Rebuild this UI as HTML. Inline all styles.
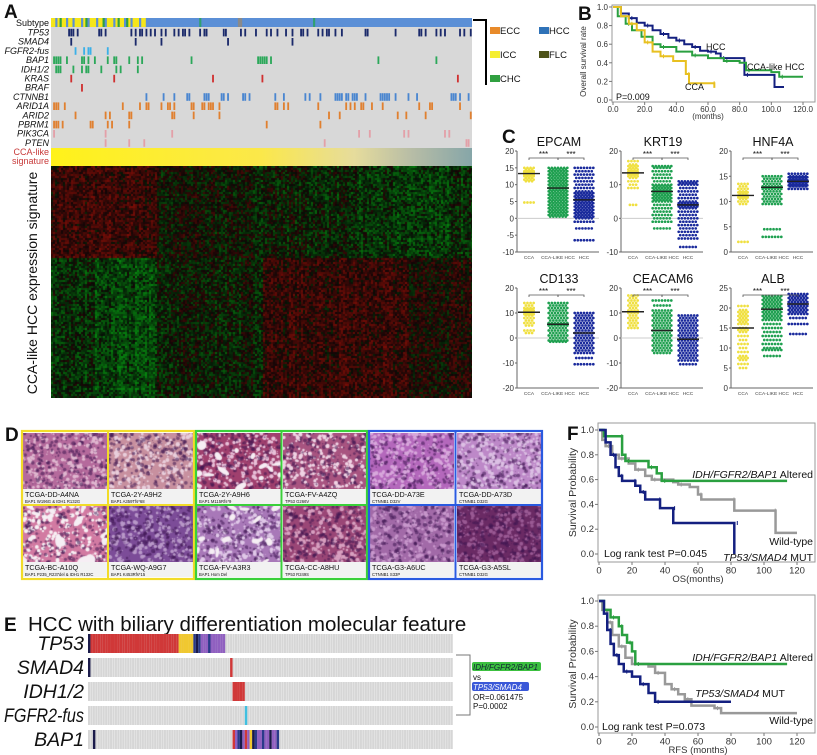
<!DOCTYPE html>
<html><head><meta charset="utf-8">
<style>
body{margin:0;width:817px;height:755px;overflow:hidden;background:#fff;font-family:"Liberation Sans",Arial,sans-serif;position:relative}
canvas{position:absolute}
svg{position:absolute;left:0;top:0}
</style></head>
<body>
<canvas id="heat" width="421" height="232" style="left:51px;top:166px"></canvas>
<div id="histo"></div>
<svg id="fig" width="817" height="755" xmlns="http://www.w3.org/2000/svg"></svg>
<script>
// ---------------- DATA ----------------
const oncoGenes=["TP53","SMAD4","FGFR2-fus","BAP1","IDH1/2","KRAS","BRAF","CTNNB1","ARID1A","ARID2","PBRM1","PIK3CA","PTEN"];
const oncoColors=["#1b2a6b","#1b2a6b","#3bb0e8","#2ca85a","#2ca85a","#d03030","#d03030","#4a86d0","#e08030","#e08030","#e08030","#e3a0a8","#e3a0a8"];
const tp53Samples=[8,9,10,12,22,23,25,37,39,41,42,44,46,48,51,53,57,59,61,62,64,69,71,72,80,81,88,90,95,100,102,105,109,112,116,117,119,124,126,128,129,132,135,146,147,160,171,172,174,179,181,183,190,192,195];
const smad4Samples=[9,39,51,82,112];
const fgfr2Samples=[11,15,17,18,26];
const bap1Samples=[1,2,3,4,7,14,15,17,20,26,29,30,36,40,42,65,96,97,98,99,100,102,152,179];
const idhSamples=[2,3,4,10,14,16,17,23,30,32,40];
const krasSamples=[9,29,75,98,189];
const brafSamples=[14];
const ctnnb1Samples=[44,52,57,63,64,71,72,73,79,80,82,89,90,92,104,108,118,120,125,132,133,134,135,137,138,140,141,142,146,153,154,155,156,157,160,166,170,186,187,188,190,194];
const arid1aSamples=[1,2,3,6,33,41,44,45,51,54,55,57,65,66,70,71,73,74,75,78,104,105,108,110,124,137,139,141,144,145,149,154,171,176,177,190];
const arid2Samples=[11,25,27,36,37,56,57,66,78,129,134,161,165,174,195];
const pbrm1Samples=[1,2,3,5,18,19,26,28,36,100,125];
const pik3caSamples=[1,25,56,143,148,164,166,183,185];
const ptenSamples=[25,36,43,127,193,194];
const subtypeHead="YYBYGYYBYYBYYYBYGBYYYBYYGBYYYBYGYYBGYBYYYBYY";

// Panel B KM (months, survival)
const bHccT=[0,5,10,15,20,25,30,35,40,45,50,55,60,65,68,75,83,102,108];
const bHccS=[1,0.93,0.88,0.83,0.8,0.75,0.71,0.67,0.64,0.6,0.57,0.53,0.52,0.5,0.45,0.45,0.27,0.14,0.14];
const bLikeT=[0,3,8,12,18,25,30,40,50,60,70,80,84,100,105,120];
const bLikeS=[1,0.9,0.82,0.75,0.68,0.6,0.57,0.52,0.48,0.45,0.42,0.4,0.32,0.3,0.25,0.25];
const bCcaT=[0,5,10,15,20,25,30,38,46,48,62,64];
const bCcaS=[1,0.9,0.82,0.75,0.62,0.52,0.47,0.42,0.28,0.18,0.18,0.13];
// Panel F KM
const osGreenT=[0,3,12,14,16,27,30,35,38,114];
const osGreenS=[1,0.95,0.95,0.8,0.75,0.75,0.7,0.65,0.59,0.59];
const osGrayT=[0,2,4,8,12,18,22,28,32,45,48,55,60,62,80,82,105,107,120];
const osGrayS=[1,0.92,0.87,0.8,0.77,0.73,0.68,0.63,0.6,0.58,0.56,0.54,0.48,0.44,0.44,0.35,0.35,0.17,0.17];
const osNavyT=[0,4,7,10,12,14,20,22,25,28,35,37,44,45,82,82];
const osNavyS=[1,0.9,0.8,0.7,0.63,0.59,0.59,0.55,0.5,0.44,0.44,0.37,0.37,0.25,0.25,0];
const rfsGreenT=[0,3,7,10,12,14,17,20,22,114];
const rfsGreenS=[1,0.93,0.87,0.87,0.8,0.73,0.67,0.6,0.5,0.5];
const rfsGrayT=[0,2,5,8,12,16,20,30,34,40,44,48,52,56,70,74,120];
const rfsGrayS=[1,0.93,0.83,0.73,0.64,0.55,0.5,0.48,0.43,0.34,0.3,0.26,0.22,0.17,0.15,0.11,0.11];
const rfsNavyT=[0,3,5,7,9,12,15,20,25,30,34,80];
const rfsNavyS=[1,0.9,0.77,0.66,0.57,0.5,0.44,0.4,0.34,0.27,0.2,0.2];

// Panel C dot plots
const epcamCCA=[15,14.5,14,14,13.8,13.5,13.5,13.3,13.2,13,13,12.8,12.5,12,11.5,11,4.7];
const epcamLike=[15,14.5,14,13.5,13,12.5,12,11.5,11,10.5,10,9.5,9,8.5,8,7.5,7,6.5,6,5.5,5,4.5,4,3.5,3,2.5,2,1.5,1,0.5];
const epcamHCC=[15,14,13,12,11,10,9,8,7.5,7,6.5,6,5.5,5,4.5,4,3.5,3,2.5,2,1.5,1,0.5,0,-1,-3,-6.5];
const epcamMeans=[13.3,9,5.5];
const krt19CCA=[17,16,15.5,15,14.5,14,13.8,13.5,13.2,13,12.5,12,11,10,9,4];
const krt19Like=[15.5,15,14,13,12,11,10,9.5,9,8.5,8,7.5,7,6.5,6,5.5,5,4,3,2,1,0,-1,-3];
const krt19HCC=[11,10.5,10,9,8,7,6,5,4.5,4,3.5,3,2,1,0,-1,-2,-3,-4,-5,-6,-8.5];
const krt19Means=[13.5,8,4];
const hnf4aCCA=[13.5,13,12.5,12,11.8,11.5,11.2,11,10.8,10.5,10,9.5,2];
const hnf4aLike=[15,14.5,14,13.5,13,12.8,12.5,12,11.5,11,10.5,10,9.5,4.5,3];
const hnf4aHCC=[15.5,15,14.8,14.5,14.2,14,13.8,13.5,13.2,13,12.5];
const hnf4aMeans=[11.2,12.8,14];
const cd133CCA=[14,13,12,11.5,11,10.5,10.3,10,9.5,9,8,7,6,5,3,2];
const cd133Like=[14,13,12,11,10,9,8,7,6,5.5,5,4,3,2,1,0,-1,-1.5];
const cd133HCC=[10,9,8,7,6,5,4,3,2,1,0,-1,-2,-3,-4,-5,-6,-8,-10.5];
const cd133Means=[10.3,5.5,2];
const ceacamCCA=[17,16,15,14,13,12,11,10.5,10,9,8,7,6,5,4];
const ceacamLike=[15,13,11,10,9,8,7,6,5,4,3,2,1,0,-1,-2,-3,-4,-5,-6];
const ceacamHCC=[9,8,7,6,5,4,3,2,1,0,-1,-2,-3,-4,-5,-6,-7,-8,-9,-10.5];
const ceacamMeans=[10.5,3,-0.5];
const albCCA=[20.5,19.5,19,18.5,18,17.5,17,16.5,16,15,14.5,14,13,12,11,10,9,8,7.5,7,6,5];
const albLike=[23,22.5,22,21.5,21,20.5,20,19.5,19,18.5,18,17.5,17,16,15,14,13,12,11,10,9.5,8];
const albHCC=[23.5,23,22.5,22,21.5,21,20.5,20,19.5,19,18.5,17.5,16,13.5];
const albMeans=[15,19.7,21];

// Panel E oncoprint strings (one char per sample)
const eTP53="N"+"R".repeat(36)+"YYYYYY"+"BNBPPPBPPPPPP";
const eSMAD4Idx=[0,58];
const eSMAD4Col=["N","R"];
const eIDHIdx=[59,60,61,62,63];
const eFGFRIdx=[64];
const eBAP1Str="RPBNPRPYNBPPBPPNPPB";
const eBAP1Start=59;

// ---------------- DRAW ----------------
const NS="http://www.w3.org/2000/svg";
const svg=document.getElementById('fig');
function mk(tag,attrs,parent){const e=document.createElementNS(NS,tag);for(const k in attrs)e.setAttribute(k,attrs[k]);(parent||svg).appendChild(e);return e;}
function txt(x,y,s,size,opts,parent){opts=opts||{};const t=mk('text',{x:x,y:y,'font-size':size,fill:opts.fill||'#111','text-anchor':opts.anchor||'start','font-family':'"Liberation Sans",Arial,sans-serif'},parent);
 if(opts.italic)t.setAttribute('font-style','italic');if(opts.bold)t.setAttribute('font-weight','bold');if(opts.rot)t.setAttribute('transform','rotate(-90 '+x+' '+y+')');t.textContent=s;return t;}

// Panel letters
[["A",4,18],["B",578,20],["C",502,143],["D",5,441],["E",4,631],["F",567,440]].forEach(p=>{const t=txt(p[1],p[2],p[0],19,{bold:true});});

// ---- Panel A oncoprint
const N=196,ox=51,ow=421,sw=ow/N;
const gA=mk('g',{});
const bgA=mk('rect',{x:ox,y:27,width:ow,height:121,fill:'#d8d8d8'},gA);

const subRow=mk('rect',{x:ox,y:18,width:ow,height:9,fill:'#5b8fd6'},gA);

const subCol={Y:'#f5e61a',B:'#5b8fd6',G:'#30a040'};
for(let i=0;i<subtypeHead.length;i++){const r=mk('rect',{x:ox+i*sw,y:18,width:sw+0.3,height:9,fill:subCol[subtypeHead[i]]},gA);}
[[87,'#8a8a8a'],[88,'#8a8a8a'],[69,'#30a070'],[122,'#30a070']].forEach(s=>{const r=mk('rect',{x:ox+s[0]*sw,y:18,width:sw,height:9,fill:s[1]},gA);});
const lab=txt(49,26,"Subtype",9,{anchor:'end'},gA);
const geneSamples=[tp53Samples,smad4Samples,fgfr2Samples,bap1Samples,idhSamples,krasSamples,brafSamples,ctnnb1Samples,arid1aSamples,arid2Samples,pbrm1Samples,pik3caSamples,ptenSamples];
oncoGenes.forEach((g,i)=>{const y=28+i*9.2;
 const l=txt(49,y+7.5,g,9,{anchor:'end',italic:true},gA);
 geneSamples[i].forEach(s=>{const r=mk('rect',{x:ox+s*sw,y:y+0.8,width:sw*0.85,height:7.6,fill:oncoColors[i]},gA);});
});
const defs=mk('defs',{});
const lg=mk('linearGradient',{id:'sig',x1:0,x2:1,y1:0,y2:0},defs);
[[0,'#fff21a'],[0.5,'#fbe84a'],[0.72,'#e6dc9c'],[0.86,'#b6bca6'],[1,'#86a6a8']].forEach(s=>mk('stop',{offset:s[0],'stop-color':s[1]},lg));
const sig=mk('rect',{x:ox,y:148,width:ow,height:18,fill:'url(#sig)'},gA);
const s1=txt(49,155,"CCA-like",9,{anchor:'end',fill:'#c83a3a'},gA);
const s2=txt(49,164,"signature",9,{anchor:'end',fill:'#c83a3a'},gA);
const hl=txt(37,283,"CCA-like HCC expression signature",14,{anchor:'middle',rot:true},gA);
// legend
const lgA=mk('g',{});
mk('path',{d:'M473 20 H486 V85',stroke:'#000','stroke-width':2,fill:'none'},lgA);
[["ECC",'#e88a2a',490,27],["HCC",'#2f72b8',539,27],["ICC",'#f5ee30',490,51],["FLC",'#4d5218',539,51],["CHC",'#30a040',490,75]].forEach(e=>{
 const r=mk('rect',{x:e[2],y:e[3],width:10,height:7,fill:e[1]},lgA);
 const t=txt(e[2]+10,e[3]+7,e[0],9.5,{},lgA);});

// heatmap texture
(function(){const c=document.getElementById('heat').getContext('2d');let seed=7;const rnd=()=>{seed=(seed*16807)%2147483647;return seed/2147483647;};
 const W=421,H=232;const colv=[];for(let x=0;x<W;x+=2)colv.push((rnd()-0.5)*0.5);
 for(let y=0;y<H;y+=2){const rv=(rnd()-0.5)*0.3;for(let x=0;x<W;x+=2){let base;const f=x/W;
  if(y<92){base=f<0.25?0.35:(f<0.45?0.0:-0.2-0.12*Math.sin(f*9));}else{base=f<0.1?-0.25:(f<0.25?-0.4:(f<0.5?-0.1:0.3));if(f>0.85)base=0.12;}
  let v=base+colv[x/2]*0.6+rv*0.4+(rnd()-0.5)*0.8;const m=Math.min(1,Math.abs(v));
  c.fillStyle=v>0?`rgb(${Math.round(15+m*120)},${Math.round(6+m*8)},6)`:`rgb(6,${Math.round(15+m*130)},${Math.round(6+m*10)})`;c.fillRect(x,y,2,2);}}})();

// ---- Panel D histology
const histo=[["TCGA-DD-A4NA","BAP1 W196G & IDH1 R132G",'#b56a9c','#e0b8d0'],["TCGA-2Y-A9H2","BAP1 A359Tfs*68",'#c8909f','#e9cfdc'],["TCGA-2Y-A9H6","BAP1 M115Rfs*9",'#a0406e','#e8c0d8'],["TCGA-FV-A4ZQ","TP53 G266V",'#a85480','#f0d4e4'],["TCGA-DD-A73E","CTNNB1 D32V",'#b468bc','#d8a8dc'],["TCGA-DD-A73D","CTNNB1 D32G",'#bd88c8','#dcc0e4'],
["TCGA-BC-A10Q","BAP1 P235_R237del & IDH1 R132C",'#d27aa2','#f8f0f4'],["TCGA-WQ-A9G7","BAP1 K453Rfs*15",'#7c4c98','#b898c8'],["TCGA-FV-A3R3","BAP1 Hom Del",'#a878b8','#e0c8e8'],["TCGA-CC-A8HU","TP53 R249S",'#9a4676','#d8a0c0'],["TCGA-G3-A6UC","CTNNB1 S33P",'#a26aa8','#c898cc'],["TCGA-G3-A5SL","CTNNB1 D32G",'#6a2a64','#9a5a94']];
const cellX=[23,109,197,283,370,457],cellY=[433,506];
const hdiv=document.getElementById('histo');
histo.forEach((h,i)=>{const col=i%6,row=Math.floor(i/6);const cv=document.createElement('canvas');cv.width=84;cv.height=56;cv.style.left=cellX[col]+'px';cv.style.top=cellY[row]+'px';
 
 
 hdiv.appendChild(cv);const c=cv.getContext('2d');c.fillStyle=h[2];c.fillRect(0,0,84,56);let seed=31+i*97;const rnd=()=>{seed=(seed*16807)%2147483647;return seed/2147483647;};
 for(let k=0;k<500;k++){c.fillStyle=rnd()<0.5?h[3]:'rgba(60,20,80,0.55)';const r=rnd()*1.8+0.4;c.beginPath();c.arc(rnd()*84,rnd()*56,r,0,7);c.fill();}
 if(i==6||i==2||i==8){for(let k=0;k<14;k++){c.fillStyle='#f6eef4';c.beginPath();c.ellipse(rnd()*84,rnd()*56,2+rnd()*5,1.5+rnd()*3,rnd()*3,0,7);c.fill();}}
 const lb=mk('rect',{x:cellX[col],y:cellY[row]+56,width:84,height:15,fill:'#f2f2f2'});
 const t1=txt(cellX[col]+2,cellY[row]+64,h[0],7.2,{});
 const t2=txt(cellX[col]+2,cellY[row]+70,h[1],4.2,{});
});
[["#f2dc28",21,195],["#3ad03a",195,368],["#2a5ae0",368,543]].forEach((b,i)=>{const r=mk('rect',{x:b[1]+1,y:431,width:b[2]-b[1]-2,height:148,fill:'none',stroke:b[0],'stroke-width':2.2});
 const m=mk('line',{x1:b[1]+1,x2:b[2]-1,y1:505,y2:505,stroke:b[0],'stroke-width':2});
 const v=mk('line',{x1:(b[1]+b[2])/2,x2:(b[1]+b[2])/2,y1:431,y2:579,stroke:b[0],'stroke-width':2});});

// ---- Panel E
const et=txt(28,631,"HCC with biliary differentiation molecular feature",20.5,{});
const pat=mk('pattern',{id:'stripe',width:2.45,height:10,patternUnits:'userSpaceOnUse',x:88},defs);
mk('rect',{x:0,y:0,width:2.45,height:10,fill:'#d6d6d6'},pat);mk('rect',{x:2.05,y:0,width:0.4,height:10,fill:'#f4f4f4'},pat);
const eCol={R:'#d03838',Y:'#f0c830',B:'#2a3a8a',N:'#1a1a4a',P:'#9060c0',C:'#40c0e0'};
const eGenes=["TP53","SMAD4","IDH1/2","FGFR2-fus","BAP1"];
const ex0=88,esw=2.45;
eGenes.forEach((g,i)=>{const y=634+i*24;const r=mk('rect',{x:ex0,y:y,width:365,height:19,fill:'url(#stripe)'});
 const t=txt(84,y+16,g,19.5,{anchor:'end',italic:true});
 if(g==="FGFR2-fus"){t.setAttribute('textLength','80');t.setAttribute('lengthAdjust','spacingAndGlyphs');}});
function eMark(idx,row,code){const r=mk('rect',{x:ex0+idx*esw,y:634+row*24,width:esw,height:19,fill:eCol[code]});}
for(let i=0;i<eTP53.length;i++)eMark(i,0,eTP53[i]);
eSMAD4Idx.forEach((s,k)=>eMark(s,1,eSMAD4Col[k]));
eIDHIdx.forEach(s=>eMark(s,2,'R'));
eFGFRIdx.forEach(s=>eMark(s,3,'C'));
eMark(2,4,'N');
for(let i=0;i<eBAP1Str.length;i++)eMark(eBAP1Start+i,4,eBAP1Str[i]);
const br=mk('path',{d:'M456 655 H470 V715 H456',stroke:'#777','stroke-width':1,fill:'none'});
const gb=mk('rect',{x:472,y:662,width:69,height:9,fill:'#3cc040',rx:2});
const t1=txt(473,670,"IDH/FGFR2/BAP1",8,{italic:true,fill:'#123'});
const t2=txt(473,680,"vs",8,{});
const bb=mk('rect',{x:472,y:682,width:57,height:9,fill:'#3a58d8',rx:2});
const t3=txt(473,690,"TP53/SMAD4",8,{italic:true,fill:'#fff'});
const t4=txt(473,700,"OR=0.061475",8,{});
const t5=txt(473,709,"P=0.0002",8,{});

// ---- KM helper
function kmPlot(cfg){const g=mk('g',{});
 const X=t=>cfg.x0+t*(cfg.x120-cfg.x0)/120, Y=s=>cfg.y0-s*(cfg.y0-cfg.y1);
 const box=mk('rect',{x:cfg.bx,y:cfg.by,width:cfg.bw,height:cfg.bh,fill:'none',stroke:'#999','stroke-width':1},g);
 cfg.yt.forEach(v=>{const tk=mk('line',{x1:cfg.bx-3,x2:cfg.bx,y1:Y(v),y2:Y(v),stroke:'#777'},g);
  const l=txt(cfg.bx-4,Y(v)+3,v.toFixed(1),cfg.fs,{anchor:'end',fill:'#333'},g);});
 cfg.xt.forEach(v=>{const tk=mk('line',{x1:X(v),x2:X(v),y1:cfg.by+cfg.bh,y2:cfg.by+cfg.bh+3,stroke:'#777'},g);
  const l=txt(X(v),cfg.by+cfg.bh+cfg.fs+2,cfg.xfmt(v),cfg.fs,{anchor:'middle',fill:'#333'},g);});
 cfg.series.forEach(s=>{let d='M'+X(s.t[0])+' '+Y(s.s[0]);for(let i=1;i<s.t.length;i++)d+=' H'+X(s.t[i])+' V'+Y(s.s[i]);
  const p=mk('path',{d:d,stroke:s.c,'stroke-width':s.w||2,fill:'none'},g);
  for(let i=2;i<s.t.length-1;i+=2){const ct=mk('line',{x1:X(s.t[i])+3,x2:X(s.t[i])+3,y1:Y(s.s[i])-2,y2:Y(s.s[i])+2,stroke:s.c,'stroke-width':1},g);}});
 const xl=txt((cfg.x0+cfg.x120)/2,cfg.by+cfg.bh+cfg.fs*2+1,cfg.xlab,cfg.fs,{anchor:'middle',fill:'#333'},g);
 const yl=txt(cfg.ylx,(cfg.by+cfg.by+cfg.bh)/2+cfg.yloff,cfg.ylab,cfg.yfs,{anchor:'middle',rot:true,fill:'#333'},g);
 cfg.labels.forEach(l=>{const t=txt(l[0],l[1],l[2],cfg.fs+1,{italic:!!l[3],anchor:l[4]||'start'},g);});
}
kmPlot({name:'survival-plot-b',x0:613,x120:803,y0:100,y1:7,bx:612,by:5,bw:203,bh:97,fs:8,yfs:8,yloff:8,yt:[0,0.2,0.4,0.6,0.8,1.0],xt:[0,20,40,60,80,100,120],xfmt:v=>v.toFixed(1),xlab:"(months)",ylab:"Overall survival rate",ylx:586,
 series:[{t:bHccT,s:bHccS,c:'#142080',n:'hcc-curve'},{t:bLikeT,s:bLikeS,c:'#2aa040',n:'cca-like-hcc-curve'},{t:bCcaT,s:bCcaS,c:'#e8c020',n:'cca-curve'}],
 labels:[[706,50,"HCC"],[747,70,"CCA-like HCC"],[685,90,"CCA"],[616,100,"P=0.009"]]});
kmPlot({name:'os-survival-plot-f',x0:599,x120:797,y0:554,y1:430,bx:598,by:423,bw:217,bh:139,fs:9.5,yfs:10.5,yloff:0,yt:[0,0.2,0.4,0.6,0.8,1.0],xt:[0,20,40,60,80,100,120],xfmt:v=>String(v),xlab:"OS(months)",ylab:"Survival Probability",ylx:576,
 series:[{t:osGrayT,s:osGrayS,c:'#999',n:'wild-type-curve',w:2.5},{t:osGreenT,s:osGreenS,c:'#2aa040',n:'idh-altered-curve',w:2.5},{t:osNavyT,s:osNavyS,c:'#142080',n:'tp53-mut-curve',w:2.5}],
 labels:[[813,478,"IDH/FGFR2/BAP1",true,'end'],[813,545,"Wild-type",false,'end'],[604,557,"Log rank test P=0.045"],[813,561,"TP53/SMAD4 MUT",true,'end']]});
kmPlot({name:'rfs-survival-plot-f',x0:599,x120:797,y0:727,y1:601,bx:598,by:595,bw:217,bh:138,fs:9.5,yfs:10.5,yloff:0,yt:[0,0.2,0.4,0.6,0.8,1.0],xt:[0,20,40,60,80,100,120],xfmt:v=>String(v),xlab:"RFS (months)",ylab:"Survival Probability",ylx:576,
 series:[{t:rfsGrayT,s:rfsGrayS,c:'#999',n:'wild-type-curve',w:2.5},{t:rfsGreenT,s:rfsGreenS,c:'#2aa040',n:'idh-altered-curve',w:2.5},{t:rfsNavyT,s:rfsNavyS,c:'#142080',n:'tp53-mut-curve',w:2.5}],
 labels:[[813,661,"IDH/FGFR2/BAP1",true,'end'],[740,697,"TP53/SMAD4 MUT",true,'middle'],[813,724,"Wild-type",false,'end'],[602,730,"Log rank test P=0.073"]]});
document.querySelectorAll('text').forEach(t=>{if(t.textContent==="IDH/FGFR2/BAP1"&&t.getAttribute('text-anchor')==='end'){t.textContent='';const a=document.createElementNS(NS,'tspan');a.setAttribute('font-style','italic');a.textContent='IDH/FGFR2/BAP1';t.appendChild(a);const b=document.createElementNS(NS,'tspan');b.setAttribute('font-style','normal');b.textContent=' Altered';t.appendChild(b);}
 if(t.textContent==="TP53/SMAD4 MUT"){t.textContent='';const a=document.createElementNS(NS,'tspan');a.setAttribute('font-style','italic');a.textContent='TP53/SMAD4';t.appendChild(a);const b=document.createElementNS(NS,'tspan');b.setAttribute('font-style','normal');b.textContent=' MUT';t.appendChild(b);}});

// ---- Panel C dot plots
const grpColors=['#f0e040','#1fa050','#1a2a9c'];
function dotPlot(cfg){const g=mk('g',{});
 const Y=v=>cfg.yb-(v-cfg.min)*(cfg.yb-cfg.yt)/(cfg.max-cfg.min);
 const tt=txt(cfg.ax+42,cfg.yt-5,cfg.title,12.5,{anchor:'middle'},g);
 const axl=mk('path',{d:`M${cfg.ax} ${cfg.yt} V${cfg.yb} H${cfg.ax+82}`,stroke:'#666',fill:'none','stroke-width':1},g);
 if(cfg.min<0){const z=mk('line',{x1:cfg.ax,x2:cfg.ax+82,y1:Y(0),y2:Y(0),stroke:'#ccc'},g);}
 cfg.ticks.forEach(v=>{const tk=mk('line',{x1:cfg.ax-2,x2:cfg.ax,y1:Y(v),y2:Y(v),stroke:'#666'},g);
  const l=txt(cfg.ax-3,Y(v)+3,String(v),8,{anchor:'end',fill:'#333'},g);});
 const cx=[cfg.ax+12,cfg.ax+41,cfg.ax+67],widths=[4,7,7];
 ["CCA","CCA-LIKE HCC","HCC"].forEach((n,i)=>{const l=txt(cx[i],cfg.yb+7,n,4.8,{anchor:'middle',fill:'#444'},g);});
 cfg.groups.forEach((vals,gi)=>{vals.forEach((v,k)=>{const n=widths[gi]-(k%2);for(let j=0;j<n;j++){const c=mk('circle',{cx:cx[gi]+(j-(n-1)/2)*3.1,cy:Y(v),r:1.35,fill:grpColors[gi]},g);}});
  const m=mk('line',{x1:cx[gi]-11,x2:cx[gi]+11,y1:Y(cfg.means[gi]),y2:Y(cfg.means[gi]),stroke:'#222','stroke-width':1.4},g);});
 const by=cfg.yt+7;
 [[0,1],[1,2]].forEach(p=>{const b=mk('path',{d:`M${cx[p[0]]} ${by+2} V${by} H${cx[p[1]]} V${by+2}`,stroke:'#555',fill:'none','stroke-width':0.8},g);
  const s=txt((cx[p[0]]+cx[p[1]])/2,by-1,"***",8,{anchor:'middle'},g);});
}
dotPlot({title:'EPCAM',ax:517,yt:151,yb:252,min:-10,max:20,ticks:[-10,-5,0,5,10,15,20],groups:[epcamCCA,epcamLike,epcamHCC],means:epcamMeans});
dotPlot({title:'KRT19',ax:621,yt:151,yb:252,min:-10,max:20,ticks:[-10,0,10,20],groups:[krt19CCA,krt19Like,krt19HCC],means:krt19Means});
dotPlot({title:'HNF4A',ax:731,yt:151,yb:252,min:0,max:20,ticks:[0,5,10,15,20],groups:[hnf4aCCA,hnf4aLike,hnf4aHCC],means:hnf4aMeans});
dotPlot({title:'CD133',ax:517,yt:288,yb:388,min:-20,max:20,ticks:[-20,-10,0,10,20],groups:[cd133CCA,cd133Like,cd133HCC],means:cd133Means});
dotPlot({title:'CEACAM6',ax:621,yt:288,yb:388,min:-20,max:20,ticks:[-20,-10,0,10,20],groups:[ceacamCCA,ceacamLike,ceacamHCC],means:ceacamMeans});
dotPlot({title:'ALB',ax:731,yt:288,yb:388,min:0,max:25,ticks:[0,5,10,15,20,25],groups:[albCCA,albLike,albHCC],means:albMeans});
</script>
</body></html>
